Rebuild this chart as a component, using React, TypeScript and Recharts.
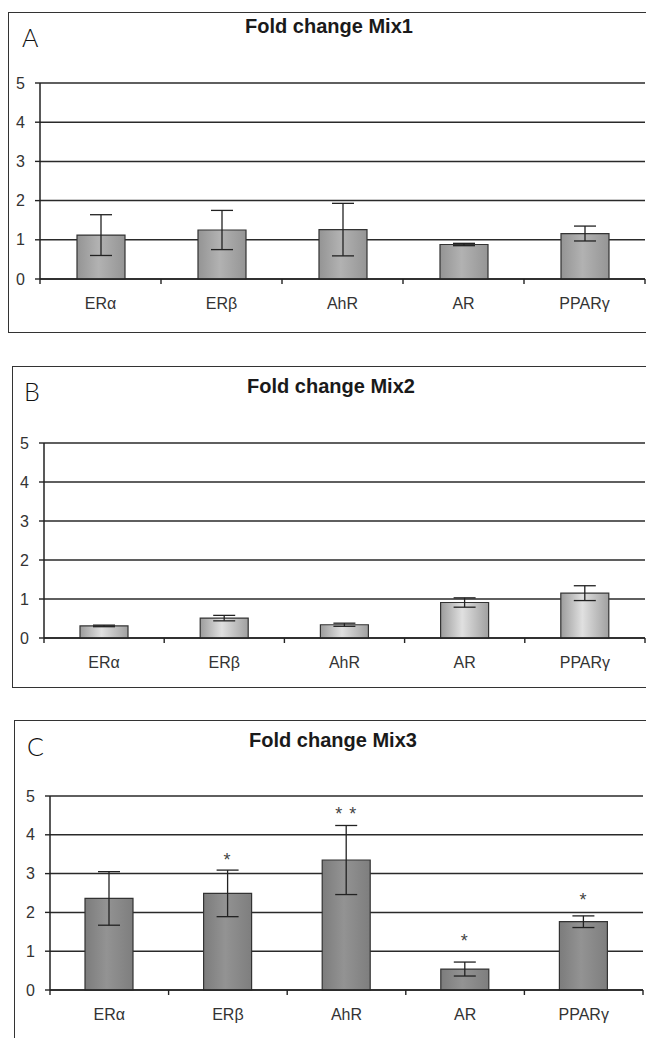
import React from 'react';
import { BarChart, Bar, XAxis, YAxis, CartesianGrid, ErrorBar, LabelList } from 'recharts';

const categories = ['ERα', 'ERβ', 'AhR', 'AR', 'PPARγ'];
const yTicks = [0, 1, 2, 3, 4, 5];

const mix1Mean = [1.12, 1.25, 1.26, 0.88, 1.16];
const mix1Err = [0.52, 0.5, 0.67, 0.03, 0.19];

const mix2Mean = [0.31, 0.51, 0.34, 0.91, 1.15];
const mix2Err = [0.02, 0.07, 0.04, 0.12, 0.19];

const mix3Mean = [2.36, 2.49, 3.35, 0.54, 1.76];
const mix3Err = [0.69, 0.6, 0.89, 0.18, 0.15];
const mix3Stars = ['', '*', '* *', '*', '*'];
const mix3StarPos = [0, 3.46, 4.64, 1.37, 2.42];

const FONT = '"Liberation Sans", Arial, sans-serif';

function buildData(mean: number[], err: number[], stars?: string[], starPos?: number[]) {
  return categories.map((c, i) => ({
    name: c,
    value: mean[i],
    err: err[i],
    stars: stars ? stars[i] : '',
    starPos: starPos ? starPos[i] : 0,
  }));
}

function CatTick(props: any) {
  const { x, y, payload, index } = props;
  const half = payload && payload.offset ? payload.offset : 60.5;
  return (
    <g>
      {index === 0 && <line x1={x - half} x2={x - half} y1={y} y2={y + 5} stroke="#222" strokeWidth={1.4} />}
      <line x1={x + half} x2={x + half} y1={y} y2={y + 5} stroke="#222" strokeWidth={1.4} />
      <text x={x} y={y + 30} textAnchor="middle" fontSize={16} fill="#333" fontFamily={FONT}>
        {payload.value}
      </text>
    </g>
  );
}

type PanelProps = {
  id: string;
  letter: string;
  title: string;
  boxLeft: number;
  boxTop: number;
  boxHeight: number;
  axisX: number;
  plotRight: number;
  plotTop: number;
  plotBottom: number;
  titleTop: number;
  titleX: number;
  letterLeft: number;
  letterTop: number;
  data: any[];
  stops: [string, string, string];
  withStars?: boolean;
};

function StarLabel(props: any) {
  const { x, y, width, height, index, data } = props;
  const d = data[index];
  if (!d || !d.stars) return null;
  const pxPerUnit = height / d.value;
  const zeroY = y + height;
  const sy = zeroY - d.starPos * pxPerUnit;
  return (
    <text x={x + width / 2} y={sy + 10} textAnchor="middle" fontSize={18} fill="#444" fontFamily={FONT} letterSpacing={1}>
      {d.stars}
    </text>
  );
}

function Panel(p: PanelProps) {
  const chartHeight = p.boxHeight;
  const marginTop = p.plotTop - p.boxTop;
  const xAxisHeight = 30;
  const marginBottom = chartHeight - (p.plotBottom - p.boxTop) - xAxisHeight;
  const gid = `grad-${p.id}`;
  return (
    <>
      <div
        style={{
          position: 'absolute',
          left: p.boxLeft,
          top: p.boxTop,
          width: 700 - p.boxLeft,
          height: p.boxHeight,
          border: '1.5px solid #333',
          boxSizing: 'border-box',
        }}
      />
      <div
        style={{
          position: 'absolute',
          left: p.titleX - 150,
          width: 300,
          top: p.titleTop,
          textAlign: 'center',
          fontFamily: FONT,
          fontWeight: 'bold',
          fontSize: 20,
          lineHeight: '20px',
          color: '#1a1a1a',
        }}
      >
        {p.title}
      </div>
      <div
        style={{
          position: 'absolute',
          left: p.letterLeft,
          top: p.letterTop,
          fontFamily: 'Lato, "Open Sans", sans-serif',
          fontWeight: 300,
          fontSize: 25,
          lineHeight: '24px',
          color: '#111',
        }}
      >
        {p.letter}
      </div>
      <div style={{ position: 'absolute', left: 0, top: p.boxTop }}>
        <BarChart
          width={p.plotRight + 1}
          height={chartHeight}
          data={p.data}
          margin={{ top: marginTop, right: 1, left: 0, bottom: marginBottom }}
          barSize={48}
        >
          <defs>
            <linearGradient id={gid} x1="0" y1="0" x2="1" y2="0">
              <stop offset="0%" stopColor={p.stops[0]} />
              <stop offset="45%" stopColor={p.stops[1]} />
              <stop offset="100%" stopColor={p.stops[2]} />
            </linearGradient>
          </defs>
          <CartesianGrid vertical={false} stroke="#2a2a2a" strokeWidth={1.5} strokeDasharray="" />
          <XAxis
            dataKey="name"
            interval={0}
            tickLine={false}
            tickSize={0}
            tickMargin={0}
            height={xAxisHeight}
            axisLine={{ stroke: '#222', strokeWidth: 1.5 }}
            tick={<CatTick />}
          />
          <YAxis
            width={p.axisX}
            domain={[0, 5]}
            ticks={yTicks}
            interval={0}
            tickSize={5}
            tickMargin={10}
            axisLine={{ stroke: '#222', strokeWidth: 1.5 }}
            tickLine={{ stroke: '#222', strokeWidth: 1.4 }}
            tick={{ fill: '#333', fontSize: 16, fontFamily: FONT }}
          />
          <Bar dataKey="value" fill={`url(#${gid})`} stroke="#333" strokeWidth={1.2} isAnimationActive={false}>
            <ErrorBar dataKey="err" width={11} stroke="#222" strokeWidth={1.3} direction="y" isAnimationActive={false} />
            {p.withStars && <LabelList dataKey="stars" content={<StarLabel data={p.data} />} />}
          </Bar>
        </BarChart>
      </div>
    </>
  );
}

export default function App() {
  return (
    <div
      style={{
        position: 'absolute',
        left: 0,
        top: 0,
        width: 646,
        height: 1038,
        overflow: 'hidden',
        background: '#fff',
      }}
    >
      <Panel
        id="a"
        letter="A"
        title="Fold change Mix1"
        boxLeft={8}
        boxTop={12}
        boxHeight={321}
        axisX={40}
        plotRight={645}
        plotTop={83}
        plotBottom={279}
        titleTop={16}
        titleX={329}
        letterLeft={22}
        letterTop={25}
        data={buildData(mix1Mean, mix1Err)}
        stops={['#949494', '#b2b2b2', '#959595']}
      />
      <Panel
        id="b"
        letter="B"
        title="Fold change Mix2"
        boxLeft={12}
        boxTop={366}
        boxHeight={322}
        axisX={44}
        plotRight={645}
        plotTop={443}
        plotBottom={638}
        titleTop={376}
        titleX={331}
        letterLeft={24}
        letterTop={379}
        data={buildData(mix2Mean, mix2Err)}
        stops={['#9c9c9c', '#e0e0e0', '#a0a0a0']}
      />
      <Panel
        id="c"
        letter="C"
        title="Fold change Mix3"
        boxLeft={14}
        boxTop={720}
        boxHeight={330}
        axisX={50}
        plotRight={643}
        plotTop={796}
        plotBottom={990}
        titleTop={730}
        titleX={333}
        letterLeft={27}
        letterTop={734}
        data={buildData(mix3Mean, mix3Err, mix3Stars, mix3StarPos)}
        stops={['#7c7c7c', '#939393', '#7e7e7e']}
        withStars
      />
    </div>
  );
}
